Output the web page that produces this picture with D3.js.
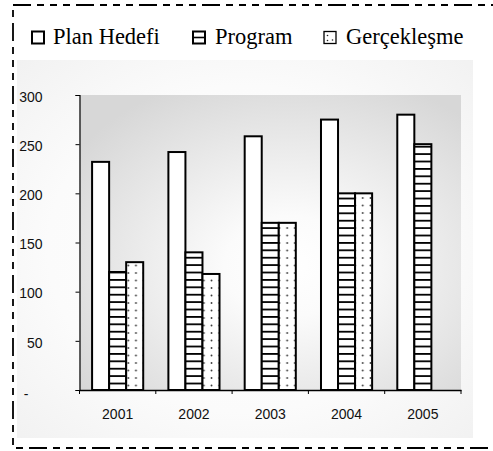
<!DOCTYPE html>
<html>
<head>
<meta charset="utf-8">
<script src="https://cdn.jsdelivr.net/npm/d3@7"></script>
<style>
  body { margin: 0; background: #fff; }
  svg { display: block; }
</style>
</head>
<body>
<div id="chart"></div>
<script>
// data
const years = ["2001", "2002", "2003", "2004", "2005"];
const series = ["Plan Hedefi", "Program", "Gerçekleşme"];
const planHedefi = [232, 242, 258, 275, 280];
const program = [120, 140, 170, 200, 250];
const gerceklesme = [130, 118, 170, 200, null];
const yTicks = [0, 50, 100, 150, 200, 250, 300];

const width = 493, height = 451;
const plot = {left: 79.5, right: 461, top: 95, bottom: 390};

const rows = years.map((y, i) => ({
  year: y,
  values: [planHedefi[i], program[i], gerceklesme[i]]
}));

const svg = d3.select('#chart').append('svg')
  .attr('width', width)
  .attr('height', height);
const defs = svg.append('defs');

// background gradients
const outerGrad = defs.append('radialGradient').attr('id', 'outerGrad')
  .attr('cx', '50%').attr('cy', '50%').attr('r', '72%');
outerGrad.append('stop').attr('offset', '0%').attr('stop-color', '#ffffff');
outerGrad.append('stop').attr('offset', '60%').attr('stop-color', '#fbfbfb');
outerGrad.append('stop').attr('offset', '100%').attr('stop-color', '#f1f1f1');

const plotGrad = defs.append('radialGradient').attr('id', 'plotGrad')
  .attr('cx', '55%').attr('cy', '58%').attr('r', '68%');
plotGrad.append('stop').attr('offset', '0%').attr('stop-color', '#ffffff');
plotGrad.append('stop').attr('offset', '25%').attr('stop-color', '#fbfbfb');
plotGrad.append('stop').attr('offset', '100%').attr('stop-color', '#d7d7d7');

// horizontal line fill for Program
const hl = defs.append('pattern').attr('id', 'hlines')
  .attr('patternUnits', 'userSpaceOnUse')
  .attr('width', 8).attr('height', 7.4).attr('y', plot.bottom);
hl.append('rect').attr('width', 8).attr('height', 7.4).attr('fill', '#fff');
hl.append('rect').attr('y', 0).attr('width', 8).attr('height', 1.8).attr('fill', '#000');

// scales
const x0 = d3.scaleBand()
  .domain(years)
  .range([plot.left, plot.right])
  .paddingInner(0.33)
  .paddingOuter(0.165);

const x1 = d3.scaleBand()
  .domain(series)
  .range([0, x0.bandwidth()]);

const y = d3.scaleLinear()
  .domain([0, 300])
  .range([plot.bottom, plot.top]);

// dotted fill for Gerçekleşme, one per bar so dots line up with the bar edge
years.forEach((yr, i) => {
  const p = defs.append('pattern').attr('id', 'dots' + i)
    .attr('patternUnits', 'userSpaceOnUse')
    .attr('x', x0(yr) + x1(series[2])).attr('y', plot.bottom)
    .attr('width', 15.4).attr('height', 15);
  p.append('rect').attr('width', 15.4).attr('height', 15).attr('fill', '#fff');
  p.append('circle').attr('cx', 2.4).attr('cy', 3).attr('r', 0.9).attr('fill', '#333');
  p.append('circle').attr('cx', 10.1).attr('cy', 10.5).attr('r', 0.9).attr('fill', '#333');
  p.append('circle').attr('cx', 10.1).attr('cy', 3).attr('r', 0.9).attr('fill', '#333');
  p.append('circle').attr('cx', 2.4).attr('cy', 10.5).attr('r', 0.9).attr('fill', '#333');
});

// chart area + plot area
svg.append('rect')
  .attr('x', 17).attr('y', 60)
  .attr('width', 456).attr('height', 378)
  .attr('fill', 'url(#outerGrad)');

svg.append('rect')
  .attr('x', plot.left).attr('y', plot.top)
  .attr('width', plot.right - plot.left).attr('height', plot.bottom - plot.top)
  .attr('fill', 'url(#plotGrad)');

// bars
const fills = [() => '#fff', () => 'url(#hlines)', (i) => `url(#dots${i})`];

const group = svg.selectAll('g.year')
  .data(rows).enter().append('g')
  .attr('class', 'year')
  .attr('transform', d => `translate(${x0(d.year)},0)`);

group.selectAll('rect')
  .data((d, i) => d.values.map((v, k) => ({key: series[k], value: v, k, i})).filter(d => d.value != null))
  .enter().append('rect')
  .attr('x', d => x1(d.key))
  .attr('y', d => y(d.value))
  .attr('width', x1.bandwidth())
  .attr('height', d => y(0) - y(d.value))
  .attr('fill', d => fills[d.k](d.i))
  .attr('stroke', '#000')
  .attr('stroke-width', 2);

// y axis
const yAxis = svg.append('g')
  .attr('transform', `translate(${plot.left},0)`)
  .call(d3.axisLeft(y).tickValues(yTicks).tickSize(4).tickPadding(33)
    .tickFormat(d => d === 0 ? '-' : d));
yAxis.select('.domain').attr('stroke', '#000').attr('stroke-width', 1.2);
yAxis.selectAll('.tick line').attr('stroke', '#000');
yAxis.selectAll('.tick text')
  .attr('font-family', 'Liberation Sans, Arial, sans-serif')
  .attr('font-size', 14)
  .attr('fill', '#111')
  .attr('dy', '0.45em');
yAxis.selectAll('.tick').filter(d => d === 0).select('text')
  .attr('x', -51).attr('dy', '0.6em');

// x axis: labels centred, ticks on category boundaries
const xAxis = svg.append('g')
  .attr('transform', `translate(0,${plot.bottom})`)
  .call(d3.axisBottom(x0).tickSize(0).tickPadding(19));
xAxis.select('.domain').attr('stroke', '#000').attr('stroke-width', 1.5);
xAxis.selectAll('.tick text')
  .attr('font-family', 'Liberation Sans, Arial, sans-serif')
  .attr('font-size', 14)
  .attr('fill', '#111');
xAxis.selectAll('line.sep')
  .data(d3.range(years.length + 1)).enter().append('line')
  .attr('class', 'sep')
  .attr('x1', i => x0.range()[0] + i * x0.step())
  .attr('x2', i => x0.range()[0] + i * x0.step())
  .attr('y1', 0).attr('y2', 4)
  .attr('stroke', '#000');

// legend
const legendX = [[32, 53], [193, 215], [324, 346]];
const legend = svg.selectAll('g.legend')
  .data(series).enter().append('g')
  .attr('class', 'legend')
  .attr('transform', (d, i) => `translate(${legendX[i][0]},31.5)`);

legend.append('rect')
  .attr('width', 12).attr('height', 12)
  .attr('fill', '#fff')
  .attr('stroke', '#000')
  .attr('stroke-width', (d, i) => i === 2 ? 1.3 : 2);
legend.filter((d, i) => i === 1).append('line')
  .attr('x1', 0).attr('x2', 12).attr('y1', 6).attr('y2', 6)
  .attr('stroke', '#000').attr('stroke-width', 1.6);
legend.filter((d, i) => i === 2).selectAll('circle')
  .data([[3.5, 4], [8.5, 8.5], [3.5, 9]]).enter().append('circle')
  .attr('cx', d => d[0]).attr('cy', d => d[1]).attr('r', 0.8).attr('fill', '#222');
legend.append('text')
  .attr('x', (d, i) => legendX[i][1] - legendX[i][0])
  .attr('y', 12.5)
  .attr('font-family', 'Liberation Serif, Times New Roman, serif')
  .attr('font-size', 22.5)
  .attr('fill', '#000')
  .text(d => d);

// dashed frame (right side falls outside the picture)
svg.append('rect')
  .attr('x', 13).attr('y', 5)
  .attr('width', 520).attr('height', 443)
  .attr('fill', 'none')
  .attr('stroke', '#000')
  .attr('stroke-width', 1.8)
  .attr('stroke-dasharray', '18,6,7,6,7,6,7,6');
</script>
</body>
</html>
